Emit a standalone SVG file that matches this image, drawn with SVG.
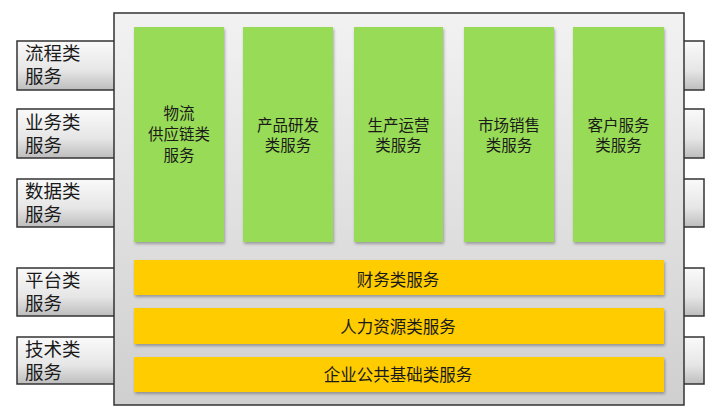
<svg xmlns="http://www.w3.org/2000/svg" width="718" height="416" viewBox="0 0 718 416">
<defs>
<linearGradient id="gBox" x1="0" y1="0" x2="0" y2="1"><stop offset="0" stop-color="#f2f2f2"/><stop offset="1" stop-color="#cfcfcf"/></linearGradient>
<linearGradient id="gTab" x1="0" y1="0" x2="0" y2="1"><stop offset="0" stop-color="#fafafa"/><stop offset="0.6" stop-color="#e6e6e6"/><stop offset="1" stop-color="#bdbdbd"/></linearGradient>
<filter id="sh" x="-10%" y="-10%" width="120%" height="130%"><feDropShadow dx="1" dy="2" stdDeviation="1.5" flood-color="#000" flood-opacity="0.3"/></filter>
</defs>
<style>
.tab{fill:url(#gTab);stroke:#333;stroke-width:1.5}
.box{fill:url(#gBox);stroke:#333;stroke-width:1.5}
.col{fill:#97db56;filter:url(#sh)}
.bar{fill:#ffcc00;filter:url(#sh)}
.t{font-family:"Liberation Sans","Noto Sans CJK SC",sans-serif;fill:#1a1a1a}
.tt{font-size:18.5px}
.ct{font-size:15.5px;text-anchor:middle}
.bt{font-size:16.5px;text-anchor:middle}
</style>
<rect width="718" height="416" fill="#fff"/>
<g id="tabs-right">
<rect class="tab" x="683" y="41" width="21" height="49"/>
<rect class="tab" x="683" y="109" width="21" height="49"/>
<rect class="tab" x="683" y="179" width="21" height="48"/>
<rect class="tab" x="683" y="268" width="21" height="48"/>
<rect class="tab" x="683" y="337" width="21" height="47"/>
</g>
<g id="tab1"><rect class="tab" x="17" y="41" width="98" height="49"/><text class="t tt" x="25" y="60">流程类</text><text class="t tt" x="25" y="83">服务</text></g>
<g id="tab2"><rect class="tab" x="17" y="109" width="98" height="49"/><text class="t tt" x="25" y="129">业务类</text><text class="t tt" x="25" y="152">服务</text></g>
<g id="tab3"><rect class="tab" x="17" y="179" width="98" height="48"/><text class="t tt" x="25" y="198">数据类</text><text class="t tt" x="25" y="221">服务</text></g>
<g id="tab4"><rect class="tab" x="17" y="268" width="98" height="48"/><text class="t tt" x="25" y="287">平台类</text><text class="t tt" x="25" y="310">服务</text></g>
<g id="tab5"><rect class="tab" x="17" y="337" width="98" height="47"/><text class="t tt" x="25" y="356">技术类</text><text class="t tt" x="25" y="379">服务</text></g>
<g id="main"><rect class="box" x="114" y="13" width="570" height="392"/></g>
<g id="c1"><rect class="col" x="134" y="27" width="90" height="215"/><text class="t ct" x="179" y="119">物流</text><text class="t ct" x="179" y="140">供应链类</text><text class="t ct" x="179" y="161">服务</text></g>
<g id="c2"><rect class="col" x="243" y="27" width="90" height="215"/><text class="t ct" x="288" y="131">产品研发</text><text class="t ct" x="288" y="151">类服务</text></g>
<g id="c3"><rect class="col" x="354" y="27" width="89" height="215"/><text class="t ct" x="398.5" y="131">生产运营</text><text class="t ct" x="398.5" y="151">类服务</text></g>
<g id="c4"><rect class="col" x="464" y="27" width="90" height="215"/><text class="t ct" x="509" y="131">市场销售</text><text class="t ct" x="509" y="151">类服务</text></g>
<g id="c5"><rect class="col" x="573" y="27" width="91" height="215"/><text class="t ct" x="618.5" y="131">客户服务</text><text class="t ct" x="618.5" y="151">类服务</text></g>
<g id="b1"><rect class="bar" x="134" y="260" width="530" height="35"/><text class="t bt" x="398" y="286">财务类服务</text></g>
<g id="b2"><rect class="bar" x="134" y="308" width="530" height="36"/><text class="t bt" x="398" y="333">人力资源类服务</text></g>
<g id="b3"><rect class="bar" x="134" y="357" width="530" height="35"/><text class="t bt" x="398" y="381">企业公共基础类服务</text></g>
<g id="connectors"/>
</svg>
